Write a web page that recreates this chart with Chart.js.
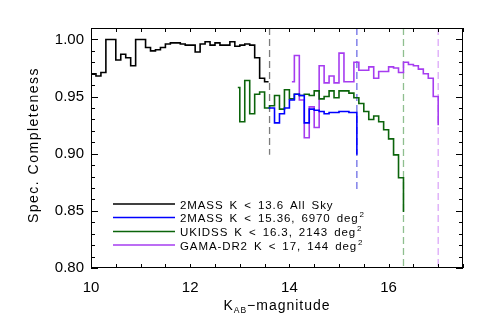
<!DOCTYPE html>
<html>
<head>
<meta charset="utf-8">
<script src="https://cdn.jsdelivr.net/npm/chart.js@4.4.1/dist/chart.umd.min.js"></script>
<style>
  html, body { margin: 0; padding: 0; background: #fff; }
  canvas { display: block; }
</style>
</head>
<body>
<canvas id="chart" width="491" height="327"></canvas>
<script>
// bin left edges (K_AB) and completeness, last point = where the curve stops
const allSkyK = [10.0, 10.1, 10.2, 10.3, 10.4, 10.5, 10.6, 10.7, 10.8, 10.9, 11.0, 11.1, 11.2, 11.3, 11.4, 11.5, 11.6, 11.7, 11.8, 11.9,
  12.0, 12.1, 12.2, 12.3, 12.4, 12.5, 12.6, 12.7, 12.8, 12.9, 13.0, 13.1, 13.2, 13.3, 13.4, 13.5, 13.58];
const allSkyC = [0.970, 0.968, 0.971, 1.000, 1.000, 0.982, 0.987, 0.984, 0.977, 1.000, 1.000, 0.993, 0.990, 0.991, 0.993, 0.996, 0.997, 0.997, 0.996, 0.995,
  0.995, 0.989, 0.996, 0.998, 0.995, 0.997, 0.995, 0.995, 0.998, 0.994, 0.995, 0.996, 0.995, 0.984, 0.966, 0.963, 0.963];

const twomassK = [13.58, 13.7, 13.8, 13.9, 14.0, 14.1, 14.2, 14.3, 14.4, 14.5, 14.6, 14.7, 14.8, 14.9, 15.0, 15.1, 15.2, 15.3, 15.36];
const twomassC = [0.940, 0.927, 0.935, 0.940, 0.947, 0.952, 0.951, 0.927, 0.939, 0.938, 0.937, 0.935, 0.936, 0.936, 0.937, 0.937, 0.936, 0.936, 0.899];

const ukidssK = [12.96, 13.0, 13.1, 13.2, 13.3, 13.4, 13.5, 13.6, 13.7, 13.8, 13.9, 14.0, 14.1, 14.2, 14.3, 14.4, 14.5, 14.6, 14.7, 14.8, 14.9,
  15.0, 15.1, 15.2, 15.3, 15.4, 15.5, 15.6, 15.7, 15.8, 15.9, 16.0, 16.1, 16.2, 16.3];
const ukidssC = [0.958, 0.928, 0.964, 0.935, 0.952, 0.954, 0.940, 0.942, 0.951, 0.939, 0.956, 0.948, 0.952, 0.951, 0.952, 0.951, 0.955, 0.948, 0.950, 0.955, 0.949,
  0.955, 0.955, 0.953, 0.949, 0.944, 0.937, 0.930, 0.933, 0.928, 0.921, 0.913, 0.899, 0.879, 0.849];

const gamaK = [14.05, 14.1, 14.2, 14.3, 14.4, 14.5, 14.6, 14.7, 14.8, 14.9, 15.0, 15.1, 15.2, 15.3, 15.4, 15.5, 15.6, 15.7, 15.8, 15.9,
  16.0, 16.1, 16.2, 16.3, 16.4, 16.5, 16.6, 16.7, 16.8, 16.9, 17.0];
const gamaC = [0.963, 0.986, 0.947, 0.914, 0.941, 0.923, 0.977, 0.962, 0.968, 0.962, 0.988, 0.963, 0.963, 0.980, 0.973, 0.973, 0.976, 0.966, 0.972, 0.972,
  0.976, 0.975, 0.971, 0.980, 0.978, 0.977, 0.974, 0.970, 0.966, 0.950, 0.925];

// magnitude limits (dashed lines) and where each dashed line stops
const limitK = [13.6, 15.36, 16.3, 17.0];
const limitBottom = [0.899, 0.868, 0.80, 0.80];

const seriesNames = ['2MASS K < 13.6 All Sky', '2MASS K < 15.36, 6970 deg', 'UKIDSS K < 16.3, 2143 deg', 'GAMA-DR2 K < 17, 144 deg'];
const seriesSup = ['', '2', '2', '2'];
const seriesColors = ['#000000', '#0000ff', '#0b640b', '#a63cf0'];
const limitColors = ['#7c7c7c', '#6e6ee6', '#8fbf8f', '#dca8f8'];

const xMin = 10, xMax = 17.5, yMin = 0.80, yMax = 1.01;

const FONT = '"Liberation Sans", Arial, Helvetica, sans-serif';

const pts = (xs, ys) => xs.map((v, i) => ({ x: v, y: ys[i] }));

const curves = [[allSkyK, allSkyC], [twomassK, twomassC], [ukidssK, ukidssC], [gamaK, gamaC]];

const datasets = [];
curves.forEach(([k, c], i) => {
  datasets.push({
    label: seriesNames[i],
    data: pts(k, c),
    borderColor: seriesColors[i],
    borderWidth: 1.6,
    stepped: 'before',
    pointRadius: 0,
    fill: false,
    order: 1
  });
});
limitK.forEach((k, i) => {
  datasets.push({
    label: 'limit ' + k,
    data: [{ x: k, y: yMax }, { x: k, y: limitBottom[i] }],
    borderColor: limitColors[i],
    borderWidth: 1.3,
    borderDash: [7, 4],
    pointRadius: 0,
    fill: false,
    order: 2
  });
});

const annot = {
  id: 'annot',
  afterDraw(chart) {
    const { ctx, chartArea: a, scales: { x, y } } = chart;
    ctx.save();
    ctx.strokeStyle = '#000';
    ctx.lineWidth = 1;
    ctx.strokeRect(a.left + 0.5, a.top + 0.5, a.right - a.left - 1, a.bottom - a.top - 1);

    // inward ticks on all four sides
    ctx.beginPath();
    x.ticks.forEach(t => {
      const px = Math.round(x.getPixelForValue(t.value)) + 0.5;
      ctx.moveTo(px, a.bottom); ctx.lineTo(px, a.bottom - 4);
      ctx.moveTo(px, a.top); ctx.lineTo(px, a.top + 4);
    });
    y.ticks.forEach(t => {
      const py = Math.round(y.getPixelForValue(t.value)) + 0.5;
      const len = Math.round(t.value * 100) % 5 === 0 ? 7 : 4;
      ctx.moveTo(a.left, py); ctx.lineTo(a.left + len, py);
      ctx.moveTo(a.right, py); ctx.lineTo(a.right - len, py);
    });
    ctx.stroke();

    // legend
    const rowsY = [204, 217.5, 231.5, 245];
    ctx.textBaseline = 'alphabetic';
    ctx.textAlign = 'left';
    seriesNames.forEach((name, i) => {
      const ly = rowsY[i];
      ctx.strokeStyle = seriesColors[i];
      ctx.lineWidth = 1.6;
      ctx.beginPath();
      ctx.moveTo(a.left + 22, ly);
      ctx.lineTo(a.left + 84, ly);
      ctx.stroke();
      ctx.fillStyle = '#000';
      ctx.font = '11.5px ' + FONT;
      ctx.letterSpacing = '0.9px';
      ctx.wordSpacing = '2px';
      ctx.fillText(name, a.left + 89, ly + 4.5);
      if (seriesSup[i]) {
        const w = ctx.measureText(name).width;
        ctx.font = '8px ' + FONT;
        ctx.fillText(seriesSup[i], a.left + 89 + w + 1, ly - 0.5);
      }
    });

    // x title with subscript
    ctx.fillStyle = '#000';
    ctx.letterSpacing = '1px';
    ctx.wordSpacing = '0px';
    ctx.font = '14px ' + FONT;
    const k = 'K', rest = '\u2212magnitude';
    const wK = ctx.measureText(k).width;
    const wRest = ctx.measureText(rest).width;
    ctx.font = '8.5px ' + FONT;
    const sub = 'AB';
    const wSub = ctx.measureText(sub).width;
    const total = wK + wSub + wRest;
    let tx = (a.left + a.right) / 2 - total / 2;
    const ty = 310;
    ctx.font = '14px ' + FONT;
    ctx.fillText(k, tx, ty);
    tx += wK;
    ctx.font = '8.5px ' + FONT;
    ctx.fillText(sub, tx, ty + 3);
    tx += wSub;
    ctx.font = '14px ' + FONT;
    ctx.fillText(rest, tx, ty);

    // y title
    ctx.save();
    ctx.translate(38, (a.top + a.bottom) / 2 - 3);
    ctx.rotate(-Math.PI / 2);
    ctx.textAlign = 'center';
    ctx.letterSpacing = '1.5px';
    ctx.font = '14px ' + FONT;
    ctx.fillText('Spec. Completeness', 0, 0);
    ctx.restore();

    ctx.restore();
  }
};

new Chart(document.getElementById('chart'), {
  type: 'line',
  data: { datasets: datasets },
  options: {
    responsive: false,
    animation: false,
    devicePixelRatio: 1,
    layout: { padding: { top: 28, right: 28, left: 0, bottom: 0 } },
    plugins: { legend: { display: false }, tooltip: { enabled: false } },
    scales: {
      x: {
        type: 'linear',
        min: xMin,
        max: xMax,
        grid: { display: false, drawTicks: false },
        border: { display: false },
        ticks: {
          stepSize: 0.5,
          autoSkip: false,
          maxRotation: 0,
          padding: 11,
          color: '#000',
          font: { size: 15, family: FONT },
          callback: v => (Math.abs(v % 2) < 1e-9 ? String(v) : '')
        },
        afterFit: s => { s.height = 59; }
      },
      y: {
        type: 'linear',
        min: yMin,
        max: yMax,
        grid: { display: false, drawTicks: false },
        border: { display: false },
        ticks: {
          stepSize: 0.01,
          autoSkip: false,
          padding: 7,
          color: '#000',
          font: { size: 15, family: FONT },
          callback: v => {
            const r = Math.round(v * 100);
            return (r % 5 === 0 && r <= 100) ? v.toFixed(2) : '';
          }
        },
        afterFit: s => { s.width = 91; }
      }
    }
  },
  plugins: [annot]
});
</script>
</body>
</html>
